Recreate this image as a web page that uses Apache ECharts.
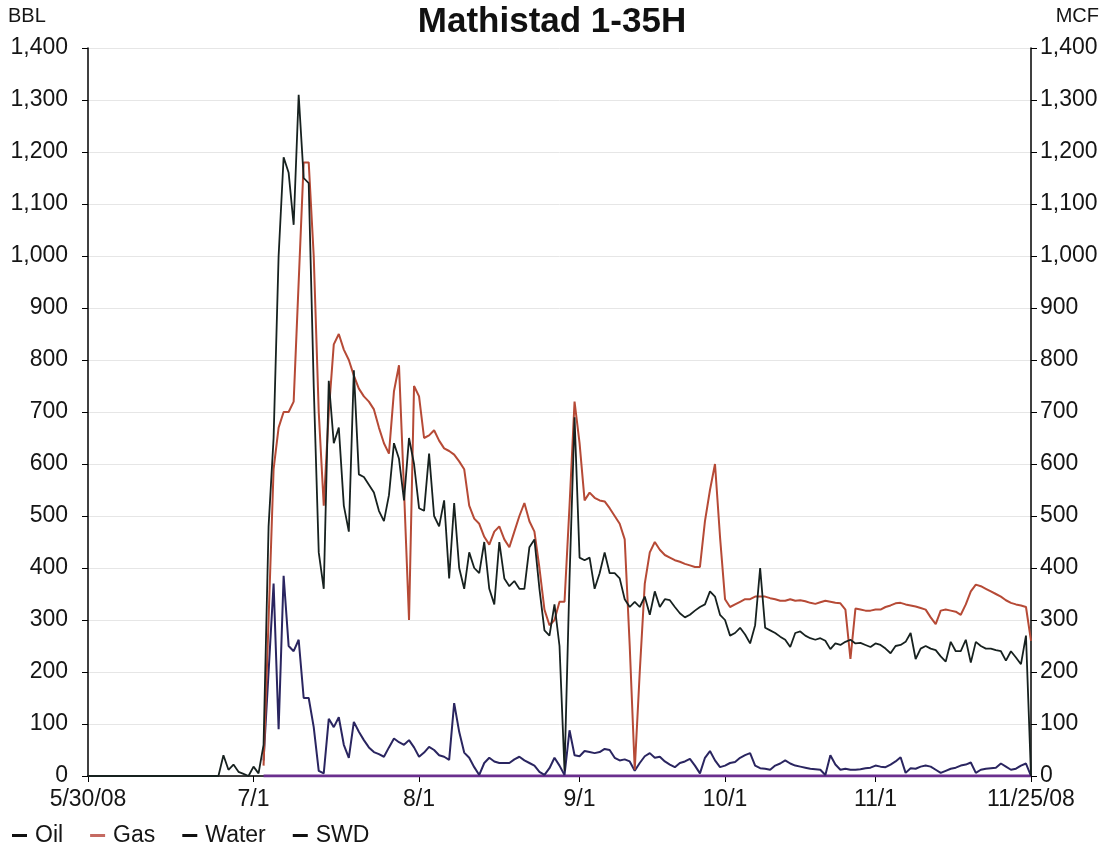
<!DOCTYPE html>
<html>
<head>
<meta charset="utf-8">
<title>Mathistad 1-35H</title>
<script src="https://cdn.jsdelivr.net/npm/echarts@6/dist/echarts.min.js"></script>
<style>
  html, body { margin: 0; padding: 0; background: #fff; }
  #chart { width: 1104px; height: 846px; }
</style>
</head>
<body>
<div id="chart"></div>
<script>
// one point per sample, x axis is a category axis of sample index
const pointCount = 189;
const categories = Array.from({ length: pointCount }, (_, i) => String(i));

// sample index where each date label sits, and its text
const tickIndex = [0, 33, 66, 98, 127, 157, 188];
const tickText = ['5/30/08', '7/1', '8/1', '9/1', '10/1', '11/1', '11/25/08'];

// production starts at this sample for gas / water / swd
const prodStart = 35;

const oil = [
    0, 0, 0, 0, 0, 0, 0, 0, 0, 0,
    0, 0, 0, 0, 0, 0, 0, 0, 0, 0,
    0, 0, 0, 0, 0, 0, 0, 40, 12, 22,
    8, 4, 0, 18, 5, 60, 480, 650, 1000, 1190,
    1160, 1060, 1310, 1150, 1140, 750, 430, 360, 760, 640,
    670, 520, 470, 780, 580, 575, 560, 545, 510, 490,
    540, 640, 610, 530, 650, 600, 515, 510, 620, 500,
    480, 530, 380, 525, 400, 360, 430, 400, 390, 450,
    360, 330, 450, 380, 365, 375, 360, 360, 440, 455,
    360, 280, 270, 330, 250, 10, 380, 690, 420, 415,
    420, 360, 390, 430, 390, 390, 380, 340, 325, 335,
    325, 345, 310, 355, 325, 340, 338, 325, 313, 305,
    310, 318, 325, 330, 355, 345, 310, 300, 270, 275,
    285, 272, 255, 290, 400, 285, 280, 275, 268, 262,
    248, 275, 278, 270, 265, 262, 265, 260, 244, 255,
    252, 258, 262, 255, 256, 252, 248, 255, 252, 245,
    236, 250, 252, 258, 275, 225, 245, 250, 245, 242,
    230, 220, 258, 240, 240, 262, 218, 258, 250, 245,
    245, 242, 240, 222, 240, 228, 215, 270, 0
];

const gas = [
    20, 300, 590, 670, 700,
    700, 720, 950, 1180, 1180, 1000, 700, 520, 700, 830,
    850, 820, 800, 770, 745, 730, 720, 705, 670, 640,
    620, 740, 790, 550, 300, 750, 730, 650, 655, 665,
    645, 630, 625, 618, 605, 590, 520, 495, 485, 460,
    445, 470, 480, 455, 440, 470, 500, 525, 490, 470,
    400, 320, 290, 300, 335, 335, 520, 720, 640, 530,
    545, 535, 530, 528, 515, 500, 485, 455, 250, 12,
    200, 370, 430, 450, 435, 425, 420, 415, 412, 408,
    405, 402, 402, 490, 550, 600, 460, 340, 325, 330,
    335, 340, 340, 345, 345, 345, 342, 340, 337, 337,
    340, 337, 338, 336, 333, 331, 334, 337, 335, 333,
    332, 320, 225, 322, 320, 318, 318, 320, 320, 325,
    328, 332, 333, 330, 328, 326, 323, 320, 305, 292,
    318, 320, 318, 316, 310, 330, 355, 368, 365, 360,
    355, 350, 345, 338, 333, 330, 328, 325, 260
];

const water = [
    30, 200, 370, 90, 385,
    250, 240, 262, 150, 150, 94, 10, 5, 110, 94,
    113, 60, 35, 104, 85, 69, 55, 46, 42, 37,
    55, 72, 65, 60, 69, 55, 37, 45, 56, 50,
    40, 37, 31, 140, 85, 45, 35, 17, 2, 25,
    35, 28, 25, 25, 25, 32, 37, 30, 25, 20,
    8, 2, 15, 35, 20, 2, 88, 40, 38, 48,
    46, 44, 46, 52, 50, 35, 30, 32, 28, 10,
    25, 38, 44, 35, 37, 28, 22, 17, 25, 28,
    33, 20, 5, 35, 48, 30, 17, 20, 25, 27,
    35, 40, 44, 20, 15, 14, 12, 20, 24, 30,
    24, 20, 18, 16, 14, 13, 12, 2, 40, 22,
    12, 14, 12, 12, 13, 15, 16, 20, 18, 17,
    22, 28, 36, 6, 15, 14, 18, 20, 18, 12,
    6, 10, 14, 16, 20, 22, 26, 6, 12, 14,
    15, 16, 24, 18, 12, 14, 20, 24, 0
];

const swd = [
    0, 0, 0, 0, 0,
    0, 0, 0, 0, 0, 0, 0, 0, 0, 0,
    0, 0, 0, 0, 0, 0, 0, 0, 0, 0,
    0, 0, 0, 0, 0, 0, 0, 0, 0, 0,
    0, 0, 0, 0, 0, 0, 0, 0, 0, 0,
    0, 0, 0, 0, 0, 0, 0, 0, 0, 0,
    0, 0, 0, 0, 0, 0, 0, 0, 0, 0,
    0, 0, 0, 0, 0, 0, 0, 0, 0, 0,
    0, 0, 0, 0, 0, 0, 0, 0, 0, 0,
    0, 0, 0, 0, 0, 0, 0, 0, 0, 0,
    0, 0, 0, 0, 0, 0, 0, 0, 0, 0,
    0, 0, 0, 0, 0, 0, 0, 0, 0, 0,
    0, 0, 0, 0, 0, 0, 0, 0, 0, 0,
    0, 0, 0, 0, 0, 0, 0, 0, 0, 0,
    0, 0, 0, 0, 0, 0, 0, 0, 0, 0,
    0, 0, 0, 0, 0, 0, 0, 0, 0
];

const pad = (start, arr) => new Array(start).fill(null).concat(arr);

const font = '"Liberation Sans", Arial, sans-serif';
const textColor = '#151515';

const showTick = (idx) => tickIndex.includes(idx);
const fmtNum = (v) => v.toLocaleString('en-US');

const valueAxis = (position, name) => ({
    type: 'value',
    position,
    min: 0,
    max: 1400,
    interval: 100,
    name,
    nameLocation: 'end',
    nameGap: 22,
    nameTextStyle: {
        fontFamily: font, fontSize: 20, color: textColor,
        align: position === 'left' ? 'left' : 'right',
        padding: position === 'left' ? [0, 0, 0, -80] : [0, -68, 0, 0]
    },
    axisLine: { show: true, lineStyle: { color: '#000', width: 1.5 } },
    axisTick: { show: true, length: 6, lineStyle: { color: '#000' } },
    axisLabel: {
        fontFamily: font, fontSize: 23, color: textColor,
        margin: position === 'left' ? 20 : 9,
        formatter: fmtNum
    },
    splitLine: { show: position === 'left', lineStyle: { color: '#e6e6e6', width: 1 } }
});

const createSeries = (name, data, color, width, z, yAxisIndex = 0) => ({
    name,
    type: 'line',
    data,
    yAxisIndex,
    showSymbol: false,
    symbol: 'none',
    z,
    lineStyle: { color, width },
    itemStyle: { color },
    animation: false
});

const chart = echarts.init(document.getElementById('chart'), null, { renderer: 'canvas' });

chart.setOption({
    backgroundColor: '#fff',
    animation: false,
    title: {
        text: 'Mathistad 1-35H',
        left: 'center',
        top: 0,
        textStyle: { fontFamily: font, fontWeight: 'bold', fontSize: 35, color: '#111' }
    },
    grid: { left: 88, right: 73, top: 48, bottom: 70, containLabel: false },
    legend: {
        left: 7,
        top: 819,
        itemWidth: 15,
        itemHeight: 3,
        itemGap: 27,
        icon: 'rect',
        textStyle: { fontFamily: font, fontSize: 23, color: textColor, padding: [0, 0, 0, 3] },
        data: [
            { name: 'Oil', itemStyle: { color: '#111' } },
            { name: 'Gas', itemStyle: { color: '#c56a62' } },
            { name: 'Water', itemStyle: { color: '#111' } },
            { name: 'SWD', itemStyle: { color: '#111' } }
        ]
    },
    xAxis: {
        type: 'category',
        data: categories,
        boundaryGap: false,
        axisLine: { show: true, lineStyle: { color: '#000', width: 1.5 } },
        axisTick: { show: true, length: 6, interval: showTick, lineStyle: { color: '#000' } },
        axisLabel: {
            fontFamily: font, fontSize: 23, color: textColor, margin: 12,
            interval: showTick,
            formatter: (val, idx) => tickText[tickIndex.indexOf(idx)] || ''
        },
        splitLine: { show: false }
    },
    yAxis: [valueAxis('left', 'BBL'), valueAxis('right', 'MCF')],
    series: [
        createSeries('SWD', pad(prodStart, swd), '#6a2f8e', 3, 2),
        createSeries('Water', pad(prodStart, water), '#2a2560', 2, 3),
        createSeries('Gas', pad(prodStart, gas), '#b64a36', 2, 4, 1),
        createSeries('Oil', oil, '#17211f', 1.8, 5)
    ]
});
</script>
</body>
</html>
